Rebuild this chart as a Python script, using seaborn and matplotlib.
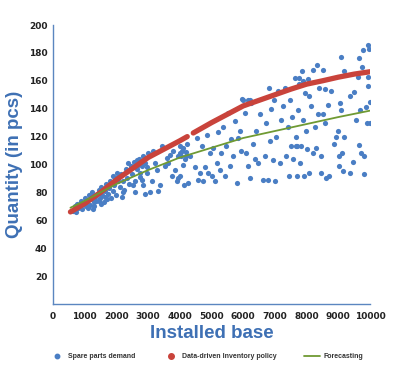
import numpy as np
import pandas as pd
import seaborn as sns
import matplotlib.pyplot as plt
from matplotlib.lines import Line2D

# spare parts demand (installed base, quantity)
demand_x = [
    620, 680, 720, 760, 800, 840, 880, 920, 960, 1000, 1040, 1080, 1120, 1160,
    1200, 1240, 1280, 1320, 1360, 1400, 1440, 1480, 1520, 1560, 1600, 1640,
    1680, 1720, 1760, 1800, 1840, 1880, 1920, 1960, 2000, 1700, 1500, 1300,
    1100, 1900, 1850, 1650, 1450, 1250,
    2010, 2065, 2170, 2220, 2325, 2380, 2485, 2535, 2590, 2640, 2695, 2745,
    2800, 2850, 2905, 2955, 3010,
    2050, 2100, 2150, 2200, 2250, 2300, 2350, 2400, 2450, 2500, 2550, 2600,
    2650, 2700, 2750, 2800, 2850, 2900, 2950,
    3060, 3115, 3165, 3220, 3270, 3325, 3375, 3430, 3530, 3585, 3640, 3690,
    3745, 3795, 3850, 3900, 3950, 4005, 4055, 4110, 4140, 4180, 4215, 4245,
    4000, 4050, 4100, 4150, 4200, 3950, 4020,
    4320, 4475, 4530, 4580, 4630, 4685, 4740, 4790, 4845, 4895, 4950, 5000,
    5050, 5105, 5160, 5210, 5260, 5315, 5365, 5420, 5470, 5525, 5575, 5630,
    5680, 5735, 5790, 5840, 5890, 5945, 5995, 6050, 6100, 6155, 5950, 6200,
    6155, 6205, 6260, 6310, 6365, 6415, 6470, 6520, 6625, 6680, 6730, 6785,
    6800, 6835, 6890, 6940, 6970,
    6990, 7045, 7095, 7150, 7200, 7250, 7305, 7355, 7410, 7430, 7465, 7515,
    7535, 7565, 7620, 7670, 7705, 7725, 7775, 7800, 7830, 7860, 7880, 7910,
    7935, 7750, 7900, 7650, 7700,
    7990, 8020, 8040, 8060, 8090, 8145, 8195, 8215, 8250, 8300, 8335, 8355,
    8405, 8440, 8460, 8510, 8530, 8565, 8585, 8615, 8670, 8720, 8775, 8880,
    8930, 8985, 9035, 9065, 9090,
    9035, 9090, 9110, 9140, 9165, 9195, 9355, 9355, 9460, 9490, 9560, 9615,
    9640, 9665, 9700, 9720, 9745, 9770, 9800, 9820, 9875, 9925, 9950, 9965,
    9990, 10010, 9900, 9925,
]
demand_y = [
    67, 70, 66, 72, 69, 71, 74, 68, 72, 76, 70, 73, 78, 71,
    75, 80, 73, 77, 74, 79, 82, 76, 84, 78, 73, 81,
    86, 79, 83, 88, 76, 81, 85, 90, 78, 75, 72, 70,
    69, 92, 87, 77, 74, 68,
    94, 88, 77, 80, 96, 101, 98, 85, 80, 103, 100, 94,
    89, 106, 79, 98, 108,
    91, 84, 93, 88, 82, 97, 90, 86, 99, 93, 102, 88,
    97, 104, 91, 99, 85, 101, 94,
    80, 88, 110, 101, 96, 81, 85, 113, 99, 105, 101, 107,
    92, 110, 96, 88, 106, 113, 110, 100, 85, 106, 115, 87,
    108, 106, 112, 104, 109, 90, 92,
    106, 98, 119, 89, 94, 113, 88, 98, 121, 94, 108, 92,
    112, 88, 101, 123, 96, 108, 127, 92, 113, 137, 99, 118,
    106, 131, 87, 119, 124, 110, 146, 137, 108, 146, 147, 146,
    99, 90, 144, 115, 104, 124, 101, 136, 89, 106, 130, 89,
    155, 117, 140, 103, 146,
    88, 120, 153, 101, 132, 142, 155, 106, 127, 92, 146, 113,
    134, 104, 162, 120, 92, 139, 158, 101, 113, 167, 132, 92,
    151, 162, 160, 113, 113,
    124, 111, 161, 149, 94, 142, 108, 168, 127, 112, 171, 136,
    155, 106, 94, 136, 168, 130, 154, 90, 143, 92, 153, 115,
    120, 124, 106, 144, 177,
    99, 139, 108, 95, 167, 120, 94, 149, 102, 152, 132, 163,
    176, 114, 139, 108, 170, 182, 106, 93, 141, 156, 186, 183,
    145, 130, 130, 163,
]

# data-driven inventory policy, drawn in two pieces
policy_x = [550, 1000, 1500, 2000, 2500, 3000, 3500, 4000, 4235,
            4425, 5000, 5500, 6000, 6500, 7000, 7500, 8000, 8500, 9000,
            9500, 10000]
policy_y = [66, 72, 80, 89, 97, 105, 111, 117, 120,
            122.6, 130, 136, 142, 146, 150, 154, 157.6, 160, 162.6,
            164.8, 166.5]
policy_part = [1] * 9 + [2] * 12

# forecasting
forecast_x = [550, 1000, 2000, 3000, 4000, 5000, 6000, 7000, 8000, 9000, 10000]
forecast_y = [69, 74, 86, 96, 105, 112, 119, 124, 129, 134, 138.6]

x_ticks = [0, 1000, 2000, 3000, 4000, 5000, 6000, 7000, 8000, 9000, 10000]
y_ticks = [20, 40, 60, 80, 100, 120, 140, 160, 180, 200]
legend_labels = ['Spare parts demand', 'Data-driven Inventory policy',
                 'Forecasting']

blue = '#4a7ec4'
red = '#c9433b'
green = '#6f9a33'
axis_blue = '#5b86c0'
title_blue = '#3e70b4'

sns.set_style('white')
plt.rcParams['font.family'] = ['DejaVu Sans']

demand = pd.DataFrame({'x': demand_x, 'y': demand_y})
policy = pd.DataFrame({'x': policy_x, 'y': policy_y, 'part': policy_part})
forecast = pd.DataFrame({'x': forecast_x, 'y': forecast_y})

fig = plt.figure(figsize=(4, 3.71), dpi=100)
ax = fig.add_axes([0.1325, 0.1806, 0.7925, 0.752])

sns.scatterplot(data=demand, x='x', y='y', ax=ax, color=blue, s=14,
                linewidth=0, legend=False, zorder=2)
for part, grp in policy.groupby('part'):
    sns.lineplot(data=grp, x='x', y='y', ax=ax, color=red, linewidth=3.8,
                 solid_capstyle='round', zorder=3, legend=False)
sns.lineplot(data=forecast, x='x', y='y', ax=ax, color=green, linewidth=1.3,
             zorder=4, legend=False)

ax.set_xlim(0, 10000)
ax.set_ylim(0, 200)
ax.set_xticks(x_ticks)
ax.set_yticks(y_ticks)
ax.set_xticklabels([str(t) for t in x_ticks], fontsize=6.5,
                   fontweight='bold', color='#222222')
ax.set_yticklabels([str(t) for t in y_ticks], fontsize=6.5,
                   fontweight='bold', color='#222222')
ax.tick_params(axis='x', length=0, pad=6)
ax.tick_params(axis='y', length=0, pad=4)

for side in ['top', 'right']:
    ax.spines[side].set_visible(False)
for side in ['left', 'bottom']:
    ax.spines[side].set_color(axis_blue)
    ax.spines[side].set_linewidth(1.0)

ax.set_xlabel('Installed base', fontsize=13.5, fontweight='bold',
              color=title_blue, family='Liberation Sans', labelpad=3)
ax.set_ylabel('Quantity (in pcs)', fontsize=13.5, fontweight='bold',
              color=title_blue, family='Liberation Sans', labelpad=4)

handles = [
    Line2D([], [], linestyle='none', marker='o', markersize=3.2,
           color=blue),
    Line2D([], [], linestyle='none', marker='o', markersize=4,
           color=red),
    Line2D([], [], color=green, linewidth=1.3),
]
leg = fig.legend(handles, legend_labels, loc='center', ncol=3,
                 bbox_to_anchor=(0.515, 0.038), frameon=False,
                 prop={'family': 'Liberation Sans', 'weight': 'bold', 'size': 5},
                 handlelength=2.2, columnspacing=4.0, handletextpad=0.5)
for t in leg.get_texts():
    t.set_color('#333333')

fig.savefig('out.png', dpi=100)
